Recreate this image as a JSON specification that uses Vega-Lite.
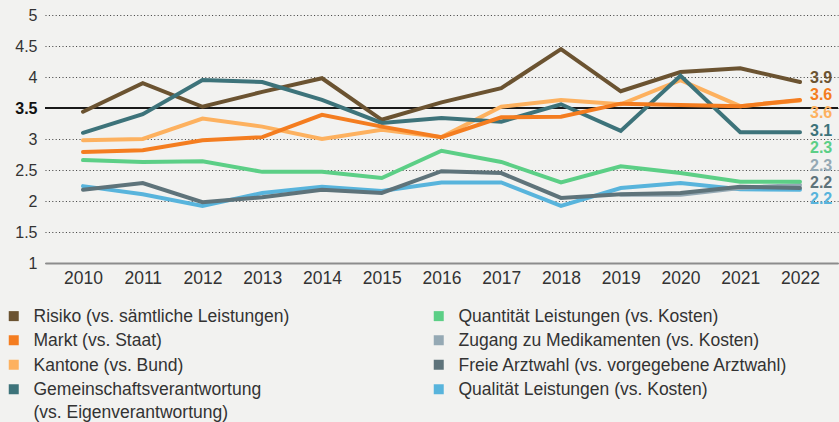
{
  "$schema": "https://vega.github.io/schema/vega-lite/v6.json",
  "width": 793,
  "height": 248,
  "autosize": {"type": "none"},
  "padding": {"left": 45, "top": 15, "right": 1, "bottom": 159},
  "background": "#f2f2f0",
  "config": {
    "view": {"stroke": null},
    "font": "Liberation Sans",
    "text": {"font": "Liberation Sans"}
  },
  "data": {
    "values": [
      {"year": 2010, "series": "Risiko (vs. sämtliche Leistungen)", "value": 3.44},
      {"year": 2011, "series": "Risiko (vs. sämtliche Leistungen)", "value": 3.90},
      {"year": 2012, "series": "Risiko (vs. sämtliche Leistungen)", "value": 3.52},
      {"year": 2013, "series": "Risiko (vs. sämtliche Leistungen)", "value": 3.76},
      {"year": 2014, "series": "Risiko (vs. sämtliche Leistungen)", "value": 3.98},
      {"year": 2015, "series": "Risiko (vs. sämtliche Leistungen)", "value": 3.31},
      {"year": 2016, "series": "Risiko (vs. sämtliche Leistungen)", "value": 3.59},
      {"year": 2017, "series": "Risiko (vs. sämtliche Leistungen)", "value": 3.82},
      {"year": 2018, "series": "Risiko (vs. sämtliche Leistungen)", "value": 4.45},
      {"year": 2019, "series": "Risiko (vs. sämtliche Leistungen)", "value": 3.77},
      {"year": 2020, "series": "Risiko (vs. sämtliche Leistungen)", "value": 4.08},
      {"year": 2021, "series": "Risiko (vs. sämtliche Leistungen)", "value": 4.14},
      {"year": 2022, "series": "Risiko (vs. sämtliche Leistungen)", "value": 3.92},

      {"year": 2010, "series": "Qualität Leistungen (vs. Kosten)", "value": 2.24},
      {"year": 2011, "series": "Qualität Leistungen (vs. Kosten)", "value": 2.11},
      {"year": 2012, "series": "Qualität Leistungen (vs. Kosten)", "value": 1.92},
      {"year": 2013, "series": "Qualität Leistungen (vs. Kosten)", "value": 2.13},
      {"year": 2014, "series": "Qualität Leistungen (vs. Kosten)", "value": 2.23},
      {"year": 2015, "series": "Qualität Leistungen (vs. Kosten)", "value": 2.16},
      {"year": 2016, "series": "Qualität Leistungen (vs. Kosten)", "value": 2.30},
      {"year": 2017, "series": "Qualität Leistungen (vs. Kosten)", "value": 2.30},
      {"year": 2018, "series": "Qualität Leistungen (vs. Kosten)", "value": 1.92},
      {"year": 2019, "series": "Qualität Leistungen (vs. Kosten)", "value": 2.21},
      {"year": 2020, "series": "Qualität Leistungen (vs. Kosten)", "value": 2.29},
      {"year": 2021, "series": "Qualität Leistungen (vs. Kosten)", "value": 2.19},
      {"year": 2022, "series": "Qualität Leistungen (vs. Kosten)", "value": 2.18},

      {"year": 2019, "series": "Zugang zu Medikamenten (vs. Kosten)", "value": 2.10},
      {"year": 2020, "series": "Zugang zu Medikamenten (vs. Kosten)", "value": 2.10},
      {"year": 2021, "series": "Zugang zu Medikamenten (vs. Kosten)", "value": 2.21},
      {"year": 2022, "series": "Zugang zu Medikamenten (vs. Kosten)", "value": 2.26},

      {"year": 2010, "series": "Quantität Leistungen (vs. Kosten)", "value": 2.66},
      {"year": 2011, "series": "Quantität Leistungen (vs. Kosten)", "value": 2.63},
      {"year": 2012, "series": "Quantität Leistungen (vs. Kosten)", "value": 2.64},
      {"year": 2013, "series": "Quantität Leistungen (vs. Kosten)", "value": 2.47},
      {"year": 2014, "series": "Quantität Leistungen (vs. Kosten)", "value": 2.47},
      {"year": 2015, "series": "Quantität Leistungen (vs. Kosten)", "value": 2.37},
      {"year": 2016, "series": "Quantität Leistungen (vs. Kosten)", "value": 2.81},
      {"year": 2017, "series": "Quantität Leistungen (vs. Kosten)", "value": 2.63},
      {"year": 2018, "series": "Quantität Leistungen (vs. Kosten)", "value": 2.30},
      {"year": 2019, "series": "Quantität Leistungen (vs. Kosten)", "value": 2.56},
      {"year": 2020, "series": "Quantität Leistungen (vs. Kosten)", "value": 2.45},
      {"year": 2021, "series": "Quantität Leistungen (vs. Kosten)", "value": 2.31},
      {"year": 2022, "series": "Quantität Leistungen (vs. Kosten)", "value": 2.31},

      {"year": 2010, "series": "Kantone (vs. Bund)", "value": 2.98},
      {"year": 2011, "series": "Kantone (vs. Bund)", "value": 3.00},
      {"year": 2012, "series": "Kantone (vs. Bund)", "value": 3.33},
      {"year": 2013, "series": "Kantone (vs. Bund)", "value": 3.20},
      {"year": 2014, "series": "Kantone (vs. Bund)", "value": 3.00},
      {"year": 2015, "series": "Kantone (vs. Bund)", "value": 3.15},
      {"year": 2016, "series": "Kantone (vs. Bund)", "value": 3.03},
      {"year": 2017, "series": "Kantone (vs. Bund)", "value": 3.52},
      {"year": 2018, "series": "Kantone (vs. Bund)", "value": 3.63},
      {"year": 2019, "series": "Kantone (vs. Bund)", "value": 3.56},
      {"year": 2020, "series": "Kantone (vs. Bund)", "value": 3.95},
      {"year": 2021, "series": "Kantone (vs. Bund)", "value": 3.53},
      {"year": 2022, "series": "Kantone (vs. Bund)", "value": 3.62},

      {"year": 2010, "series": "Gemeinschaftsverantwortung (vs. Eigenverantwortung)", "value": 3.10},
      {"year": 2011, "series": "Gemeinschaftsverantwortung (vs. Eigenverantwortung)", "value": 3.40},
      {"year": 2012, "series": "Gemeinschaftsverantwortung (vs. Eigenverantwortung)", "value": 3.95},
      {"year": 2013, "series": "Gemeinschaftsverantwortung (vs. Eigenverantwortung)", "value": 3.92},
      {"year": 2014, "series": "Gemeinschaftsverantwortung (vs. Eigenverantwortung)", "value": 3.63},
      {"year": 2015, "series": "Gemeinschaftsverantwortung (vs. Eigenverantwortung)", "value": 3.26},
      {"year": 2016, "series": "Gemeinschaftsverantwortung (vs. Eigenverantwortung)", "value": 3.34},
      {"year": 2017, "series": "Gemeinschaftsverantwortung (vs. Eigenverantwortung)", "value": 3.28},
      {"year": 2018, "series": "Gemeinschaftsverantwortung (vs. Eigenverantwortung)", "value": 3.56},
      {"year": 2019, "series": "Gemeinschaftsverantwortung (vs. Eigenverantwortung)", "value": 3.13},
      {"year": 2020, "series": "Gemeinschaftsverantwortung (vs. Eigenverantwortung)", "value": 4.02},
      {"year": 2021, "series": "Gemeinschaftsverantwortung (vs. Eigenverantwortung)", "value": 3.11},
      {"year": 2022, "series": "Gemeinschaftsverantwortung (vs. Eigenverantwortung)", "value": 3.11},

      {"year": 2010, "series": "Markt (vs. Staat)", "value": 2.79},
      {"year": 2011, "series": "Markt (vs. Staat)", "value": 2.82},
      {"year": 2012, "series": "Markt (vs. Staat)", "value": 2.98},
      {"year": 2013, "series": "Markt (vs. Staat)", "value": 3.03},
      {"year": 2014, "series": "Markt (vs. Staat)", "value": 3.39},
      {"year": 2015, "series": "Markt (vs. Staat)", "value": 3.20},
      {"year": 2016, "series": "Markt (vs. Staat)", "value": 3.03},
      {"year": 2017, "series": "Markt (vs. Staat)", "value": 3.35},
      {"year": 2018, "series": "Markt (vs. Staat)", "value": 3.36},
      {"year": 2019, "series": "Markt (vs. Staat)", "value": 3.57},
      {"year": 2020, "series": "Markt (vs. Staat)", "value": 3.55},
      {"year": 2021, "series": "Markt (vs. Staat)", "value": 3.53},
      {"year": 2022, "series": "Markt (vs. Staat)", "value": 3.63},

      {"year": 2010, "series": "Freie Arztwahl (vs. vorgegebene Arztwahl)", "value": 2.18},
      {"year": 2011, "series": "Freie Arztwahl (vs. vorgegebene Arztwahl)", "value": 2.29},
      {"year": 2012, "series": "Freie Arztwahl (vs. vorgegebene Arztwahl)", "value": 1.98},
      {"year": 2013, "series": "Freie Arztwahl (vs. vorgegebene Arztwahl)", "value": 2.06},
      {"year": 2014, "series": "Freie Arztwahl (vs. vorgegebene Arztwahl)", "value": 2.18},
      {"year": 2015, "series": "Freie Arztwahl (vs. vorgegebene Arztwahl)", "value": 2.13},
      {"year": 2016, "series": "Freie Arztwahl (vs. vorgegebene Arztwahl)", "value": 2.48},
      {"year": 2017, "series": "Freie Arztwahl (vs. vorgegebene Arztwahl)", "value": 2.45},
      {"year": 2018, "series": "Freie Arztwahl (vs. vorgegebene Arztwahl)", "value": 2.05},
      {"year": 2019, "series": "Freie Arztwahl (vs. vorgegebene Arztwahl)", "value": 2.11},
      {"year": 2020, "series": "Freie Arztwahl (vs. vorgegebene Arztwahl)", "value": 2.13},
      {"year": 2021, "series": "Freie Arztwahl (vs. vorgegebene Arztwahl)", "value": 2.23},
      {"year": 2022, "series": "Freie Arztwahl (vs. vorgegebene Arztwahl)", "value": 2.21}
    ]
  },
  "encoding": {
    "x": {
      "field": "year", "type": "ordinal",
      "scale": {"type": "point", "padding": 0.636},
      "axis": {
        "title": null, "labelAngle": 0, "ticks": false, "domain": true,
        "domainColor": "#8c8c8c", "domainWidth": 2,
        "labelFontSize": 17.5, "labelColor": "#333", "labelPadding": 6,
        "labelFont": "Liberation Sans"
      }
    },
    "y": {
      "field": "value", "type": "quantitative",
      "scale": {"domain": [1, 5], "nice": false, "zero": false},
      "axis": {
        "title": null, "values": [1, 1.5, 2, 2.5, 3, 3.5, 4, 4.5, 5], "format": "~g",
        "grid": true, "gridDash": [1, 2.4], "gridColor": "#3a3a3a", "gridWidth": 1,
        "domain": false, "ticks": false, "labelPadding": 8,
        "labelFontSize": 16, "labelFont": "Liberation Sans",
        "labelColor": {"condition": {"test": "datum.value == 3.5", "value": "#111"}, "value": "#333"},
        "labelFontWeight": {"condition": {"test": "datum.value == 3.5", "value": "bold"}, "value": "normal"}
      }
    }
  },
  "layer": [
    {
      "mark": {"type": "rule", "color": "#1a1a1a", "strokeWidth": 1.5},
      "encoding": {"y": {"datum": 3.5}, "x": null}
    },
    {
      "mark": {"type": "line", "strokeWidth": 4, "strokeCap": "round"},
      "encoding": {
        "color": {
          "field": "series", "type": "nominal",
          "scale": {
            "domain": [
              "Risiko (vs. sämtliche Leistungen)",
              "Quantität Leistungen (vs. Kosten)",
              "Markt (vs. Staat)",
              "Zugang zu Medikamenten (vs. Kosten)",
              "Kantone (vs. Bund)",
              "Freie Arztwahl (vs. vorgegebene Arztwahl)",
              "Gemeinschaftsverantwortung (vs. Eigenverantwortung)",
              "Qualität Leistungen (vs. Kosten)"
            ],
            "range": ["#6b5331", "#5ccf86", "#f47d20", "#95a9b4", "#fdb15f", "#5e737a", "#3d737a", "#58b4dc"]
          },
          "legend": {
            "title": null, "orient": "none", "legendX": -40, "legendY": 292,
            "columns": 2, "direction": "horizontal", "symbolType": "square", "symbolSize": 25,
            "symbolStrokeWidth": 5, "labelFontSize": 17.5, "labelColor": "#333", "labelFont": "Liberation Sans",
            "labelOffset": 11, "labelLimit": 400, "columnPadding": 136, "rowPadding": -1.5,
            "labelBaseline": "alphabetic",
            "labelExpr": "datum.label == 'Gemeinschaftsverantwortung (vs. Eigenverantwortung)' ? ['Gemeinschaftsverantwortung', '(vs. Eigenverantwortung)'] : datum.label",
            "encode": {"labels": {"update": {"dy": {"value": 6}, "lineHeight": {"value": 23}}}}
          }
        },
        "detail": {"field": "series"}
      }
    },
    {
      "transform": [{"filter": "datum.year == 2022 && datum.series == 'Risiko (vs. sämtliche Leistungen)'"}],
      "mark": {"type": "text", "align": "left", "baseline": "middle", "dx": 10, "dy": -4, "fontWeight": "bold", "fontSize": 16, "color": "#6b5331"},
      "encoding": {"text": {"field": "value", "format": ".1f"}}
    },
    {
      "transform": [{"filter": "datum.year == 2022 && datum.series == 'Markt (vs. Staat)'"}],
      "mark": {"type": "text", "align": "left", "baseline": "middle", "dx": 10, "dy": -4.5, "fontWeight": "bold", "fontSize": 16, "color": "#f47d20"},
      "encoding": {"text": {"field": "value", "format": ".1f"}}
    },
    {
      "transform": [{"filter": "datum.year == 2022 && datum.series == 'Kantone (vs. Bund)'"}],
      "mark": {"type": "text", "align": "left", "baseline": "middle", "dx": 10, "dy": 12.5, "fontWeight": "bold", "fontSize": 16, "color": "#fdb15f"},
      "encoding": {"text": {"field": "value", "format": ".1f"}}
    },
    {
      "transform": [{"filter": "datum.year == 2022 && datum.series == 'Gemeinschaftsverantwortung (vs. Eigenverantwortung)'"}],
      "mark": {"type": "text", "align": "left", "baseline": "middle", "dx": 10, "dy": -1, "fontWeight": "bold", "fontSize": 16, "color": "#3d737a"},
      "encoding": {"text": {"field": "value", "format": ".1f"}}
    },
    {
      "transform": [{"filter": "datum.year == 2022 && datum.series == 'Quantität Leistungen (vs. Kosten)'"}],
      "mark": {"type": "text", "align": "left", "baseline": "middle", "dx": 10, "dy": -33.5, "fontWeight": "bold", "fontSize": 16, "color": "#5ccf86"},
      "encoding": {"text": {"field": "value", "format": ".1f"}}
    },
    {
      "transform": [{"filter": "datum.year == 2022 && datum.series == 'Zugang zu Medikamenten (vs. Kosten)'"}],
      "mark": {"type": "text", "align": "left", "baseline": "middle", "dx": 10, "dy": -19, "fontWeight": "bold", "fontSize": 16, "color": "#95a9b4"},
      "encoding": {"text": {"field": "value", "format": ".1f"}}
    },
    {
      "transform": [{"filter": "datum.year == 2022 && datum.series == 'Freie Arztwahl (vs. vorgegebene Arztwahl)'"}],
      "mark": {"type": "text", "align": "left", "baseline": "middle", "dx": 10, "dy": -5, "fontWeight": "bold", "fontSize": 16, "color": "#5e737a"},
      "encoding": {"text": {"field": "value", "format": ".1f"}}
    },
    {
      "transform": [{"filter": "datum.year == 2022 && datum.series == 'Qualität Leistungen (vs. Kosten)'"}],
      "mark": {"type": "text", "align": "left", "baseline": "middle", "dx": 10, "dy": 9.5, "fontWeight": "bold", "fontSize": 16, "color": "#58b4dc"},
      "encoding": {"text": {"field": "value", "format": ".1f"}}
    }
  ]
}
